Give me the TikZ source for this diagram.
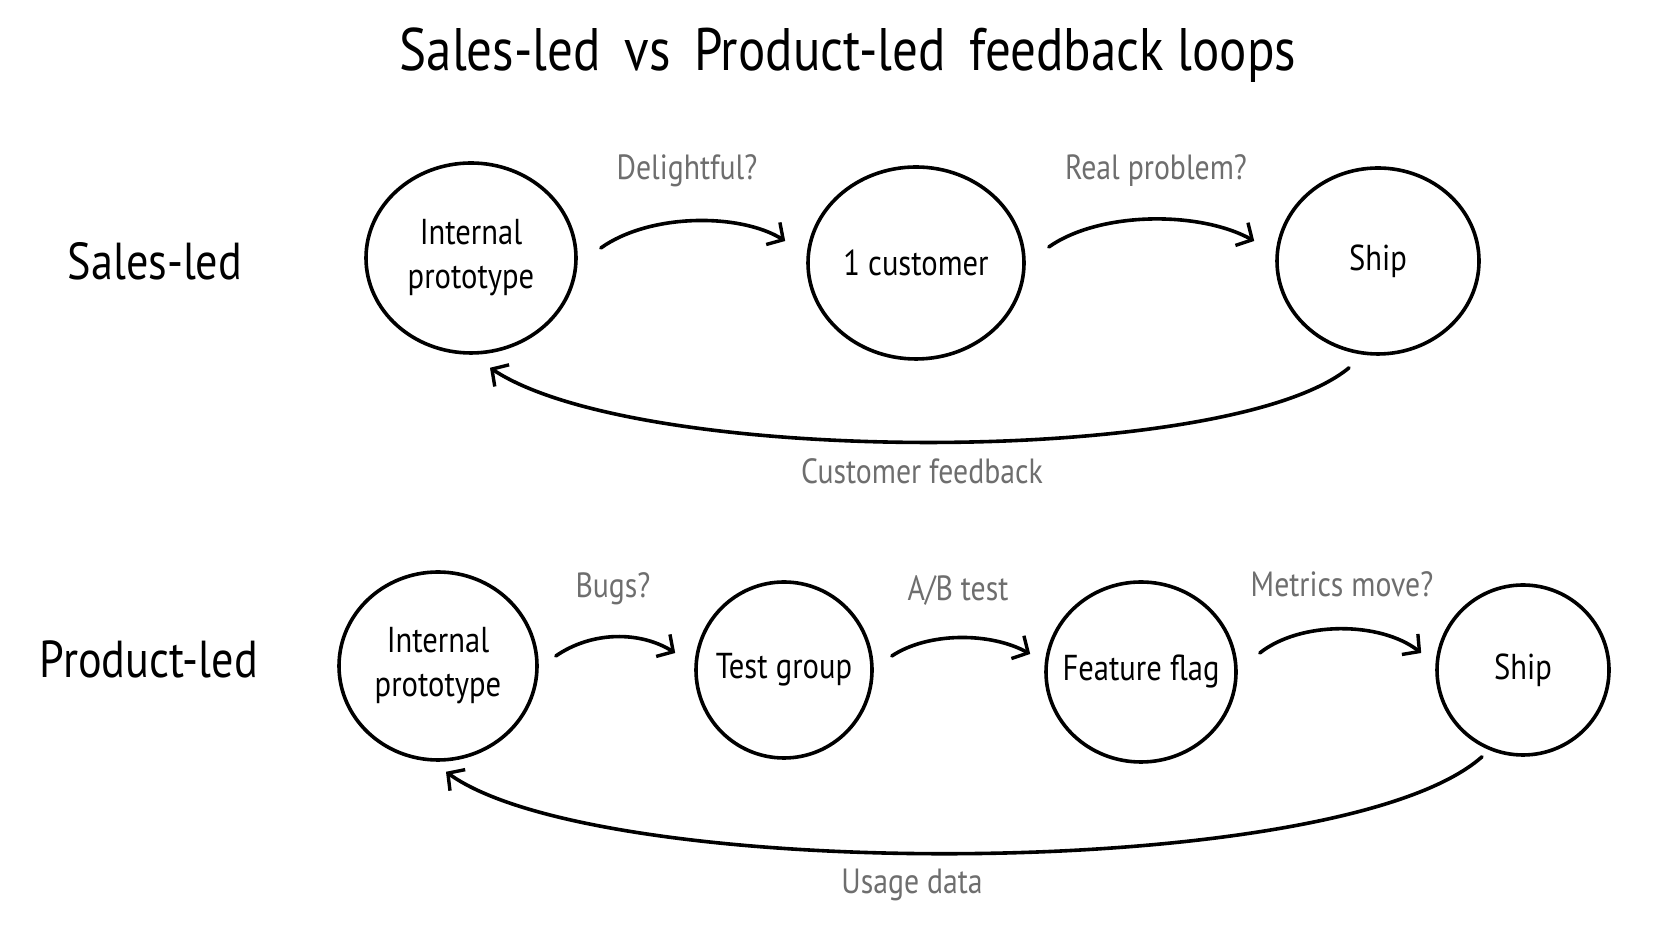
\documentclass[tikz,border=0pt]{standalone}
\usepackage{fontspec}
\setmainfont{PT Sans}[FakeStretch=0.85]
\usetikzlibrary{shapes.geometric,arrows.meta,calc}
\definecolor{lblgray}{HTML}{6E6E6E}
\newcommand\zwbox[1]{\makebox[0pt]{#1}}
\tikzset{
  bubble/.style={draw=black, line width=3.6pt, ellipse, inner sep=0pt, align=center, font=\fontsize{36}{44}\selectfont},
  arr/.style={draw=black, line width=3.6pt, line cap=round, -{Straight Barb[length=12pt,width=26pt,line width=3.4pt]}},
  lbl/.style={text=lblgray, font=\fontsize{35}{40}\selectfont},
  rowlbl/.style={font=\fontsize{52}{56}\selectfont},
}
\begin{document}
\begin{tikzpicture}[x=1pt,y=1pt]
\useasboundingbox[fill=white] (0,0) rectangle (1672,941);
\node[font=\fontsize{60}{64}\selectfont] (title) at (848,886) {Sales-led\, vs\, Product-led\, feedback loops};
\node[rowlbl] (lsales) at (155,680) {Sales-led};
\node[rowlbl] (lprod) at (149,282) {Product-led};

\node[bubble, minimum width=210pt, minimum height=190pt] (S1) at (471,683) {\zwbox{Internal}\\\zwbox{prototype}};
\node[bubble, minimum width=216pt, minimum height=192pt] (S2) at (916,678) {\zwbox{1 customer}};
\node[bubble, minimum width=202pt, minimum height=186pt] (S3) at (1378,680) {\zwbox{Ship}};

\node[bubble, minimum width=198pt, minimum height=188pt] (P1) at (438,275) {\zwbox{Internal}\\\zwbox{prototype}};
\node[bubble, minimum width=176pt, minimum height=176pt] (P2) at (784,271) {\zwbox{Test group}};
\node[bubble, minimum width=190pt, minimum height=180pt] (P3) at (1141,269) {\zwbox{Feature flag}};
\node[bubble, minimum width=172pt, minimum height=170pt] (P4) at (1523,271) {\zwbox{Ship}};

\draw[arr] ($(S1.east)+(23,10)$) .. controls (650,728) and (740,728) .. ($(S2.west)+(-21,22)$);
\draw[arr] ($(S2.east)+(23,16)$) .. controls (1100,730) and (1200,730) .. ($(S3.west)+(-21,20)$);
\draw[arr] ($(S3.south)+(-29,-12)$) .. controls (1230,474) and (640,474) .. ($(S1.south)+(19,-13)$);

\draw[arr] ($(P1.east)+(17,10)$) .. controls (592,310) and (640,310) .. ($(P2.west)+(-19,17)$);
\draw[arr] ($(P2.east)+(18,14)$) .. controls (928,309) and (990,309) .. ($(P3.west)+(-14,18)$);
\draw[arr] ($(P3.east)+(22,19)$) .. controls (1300,320) and (1380,320) .. ($(P4.west)+(-14,17)$);
\draw[arr] ($(P4.south)+(-41,0)$) .. controls (1340,58) and (600,58) .. ($(P1.south)+(8,-10)$);

\node[lbl] (l1) at (687,770) {Delightful?};
\node[lbl] (l2) at (1156,770) {Real problem?};
\node[lbl] (l3) at (922,470) {Customer feedback};
\node[lbl] (l4) at (613,352) {Bugs?};
\node[lbl] (l5) at (958,351) {A/B test};
\node[lbl] (l6) at (1342,357) {Metrics move?};
\node[lbl] (l7) at (912,56) {Usage data};
\end{tikzpicture}
\end{document}
